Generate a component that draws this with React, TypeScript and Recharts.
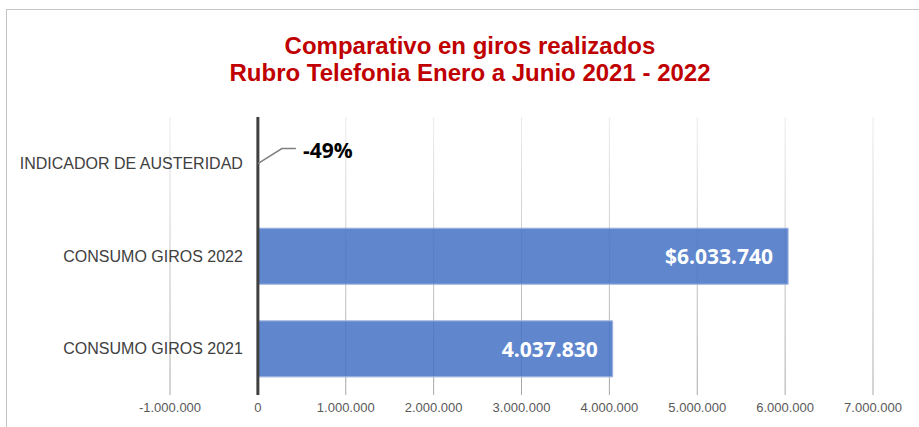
import React from "react";
import {
  BarChart,
  Bar,
  XAxis,
  YAxis,
  CartesianGrid,
  ReferenceLine,
  LabelList,
} from "recharts";

const categories = [
  "INDICADOR DE AUSTERIDAD",
  "CONSUMO GIROS 2022",
  "CONSUMO GIROS 2021",
];
const values = [-0.49, 6033740, 4037830];
const valueLabels = ["-49%", "$6.033.740", "4.037.830"];
const xTicks = [
  -1000000, 0, 1000000, 2000000, 3000000, 4000000, 5000000, 6000000, 7000000,
];

const data = categories.map((category, i) => ({
  category,
  value: values[i],
  label: valueLabels[i],
}));

const formatThousands = (n: number) => {
  const s = Math.abs(n)
    .toFixed(0)
    .replace(/\B(?=(\d{3})+(?!\d))/g, ".");
  return n < 0 ? `-${s}` : s;
};

const CategoryLabel = (props: any) => {
  const { x, y, height, value } = props;
  return (
    <text
      x={x - 15}
      y={y + height / 2}
      textAnchor="end"
      dominantBaseline="central"
      fill="#404040"
      fontSize={16}
      fontFamily="'Liberation Sans', Arial, sans-serif"
    >
      {value}
    </text>
  );
};

const ValueLabel = (props: any) => {
  const { x, y, width, height, value, index } = props;
  const cy = y + height / 2;
  if (index === 0) {
    // small percentage: leader line out to the right of the axis
    return (
      <g>
        <polyline
          points={`${x},${cy} ${x + 24},${cy - 15} ${x + 38},${cy - 15}`}
          fill="none"
          stroke="#7f7f7f"
          strokeWidth={1.5}
        />
        <text
          x={x + 45}
          y={cy - 14}
          dominantBaseline="central"
          fill="#000000"
          fontSize={21}
          fontWeight="bold"
          fontFamily="'Open Sans', sans-serif"
        >
          {value}
        </text>
      </g>
    );
  }
  return (
    <text
      x={x + width - 15}
      y={cy}
      textAnchor="end"
      dominantBaseline="central"
      fill="#ffffff"
      fontSize={21}
      fontWeight="bold"
      fontFamily="'Open Sans', sans-serif"
    >
      {value}
    </text>
  );
};

export default function App() {
  return (
    <div
      style={{
        position: "absolute",
        left: 0,
        top: 0,
        width: 919,
        height: 427,
        overflow: "hidden",
        background: "#ffffff",
      }}
    >
      <div
        style={{
          position: "absolute",
          left: 6,
          top: 9,
          width: 940,
          height: 450,
          border: "1px solid #c4c4c4",
        }}
      />
      <div
        style={{
          position: "absolute",
          left: 0,
          top: 32,
          width: 940,
          textAlign: "center",
          color: "#c00000",
          fontFamily: "'Liberation Sans', Arial, sans-serif",
          fontWeight: "bold",
          fontSize: 24,
          lineHeight: "27px",
        }}
      >
        <div>Comparativo en giros realizados</div>
        <div>Rubro Telefonia Enero a Junio 2021 - 2022</div>
      </div>
      <div style={{ position: "absolute", left: 0, top: 0 }}>
        <BarChart
          width={919}
          height={427}
          data={data}
          layout="vertical"
          margin={{ top: 117, right: 46, bottom: 2, left: 170 }}
          barCategoryGap="20%"
        >
          <defs>
            <linearGradient
              id="gridFade"
              gradientUnits="userSpaceOnUse"
              x1="0"
              y1="117"
              x2="0"
              y2="395"
            >
              <stop offset="0%" stopColor="#ececec" />
              <stop offset="100%" stopColor="#a6a6a6" />
            </linearGradient>
          </defs>
          <CartesianGrid horizontal={false} stroke="url(#gridFade)" />
          <XAxis
            type="number"
            domain={[-1000000, 7000000]}
            ticks={xTicks}
            tickFormatter={formatThousands}
            axisLine={false}
            tickLine={false}
            height={30}
            tick={{
              fill: "#595959",
              fontSize: 13,
              fontFamily: "'Liberation Sans', Arial, sans-serif",
            }}
            interval={0}
          />
          <YAxis type="category" dataKey="category" hide />
          <Bar
            dataKey="value"
            fill="#4472c4"
            fillOpacity={0.85}
            stroke="#9db3e0"
            strokeWidth={1}
            isAnimationActive={false}
          >
            <LabelList dataKey="category" content={CategoryLabel} />
            <LabelList dataKey="label" content={ValueLabel} />
          </Bar>
          <ReferenceLine x={0} stroke="#404040" strokeWidth={3} />
        </BarChart>
      </div>
    </div>
  );
}
